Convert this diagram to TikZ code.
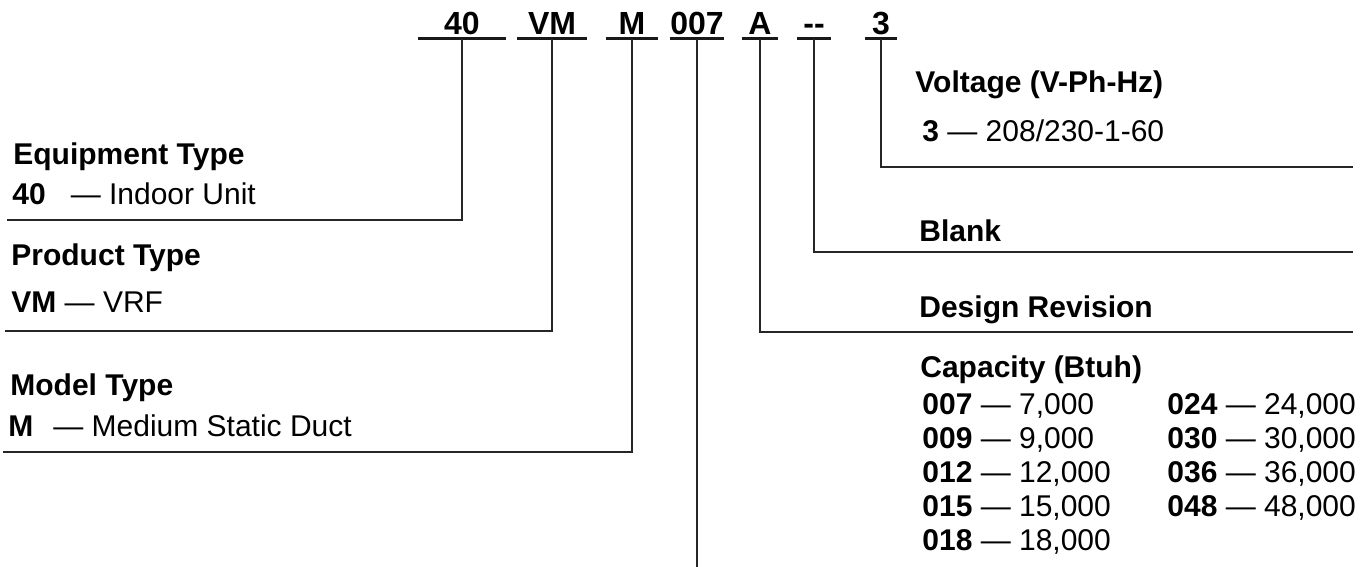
\documentclass[tikz,border=0pt]{standalone}
\usepackage{fontspec}
\setmainfont{Liberation Sans}
\usetikzlibrary{calc}

\begin{document}
\begin{tikzpicture}[x=0.5pt,y=-0.5pt,
  code/.style={anchor=base,inner xsep=0pt,inner ysep=1.75pt,text depth=0pt,
    font=\fontsize{16}{19}\selectfont\bfseries},
  head/.style={anchor=base west,inner sep=0pt,font=\fontsize{15}{18}\selectfont\bfseries},
  item/.style={anchor=base west,inner sep=0pt,font=\fontsize{15}{18}\selectfont},
  link/.style={line width=1pt,draw=black!85},
  bar/.style={line width=1.5pt,draw=black!90}]
\useasboundingbox (0,0) rectangle (1362,567);

% The model number.
\node[code,minimum width=43.5pt] (c40) at (462,35) {40};
\node[code,minimum width=34.5pt] (cVM) at (552,35) {VM};
\node[code,minimum width=26pt] (cM) at (632,35) {M};
\node[code,minimum width=26pt] (c007) at (697,35) {007};
\node[code,minimum width=18pt] (cA) at (760,35) {A};
\node[code,minimum width=16.5pt] (cBlank) at (814,35) {-{}-};
\node[code,minimum width=16pt] (cV) at (881,35) {3};

\foreach \c in {c40,cVM,cM,c007,cA,cBlank,cV}
  \draw[bar] (\c.south west) -- (\c.south east);

% Ends of the leader lines.
\coordinate (e40) at (7,220);
\coordinate (eVM) at (5,331);
\coordinate (eM) at (3,452);
\coordinate (e007) at (697,567);
\coordinate (eA) at (1353,332);
\coordinate (eBlank) at (1353,252);
\coordinate (eV) at (1353,167);

\draw[link] (c40.south) |- (e40);
\draw[link] (cVM.south) |- (eVM);
\draw[link] (cM.south) |- (eM);
\draw[link] (c007.south) -- (e007);
\draw[link] (cA.south) |- (eA);
\draw[link] (cBlank.south) |- (eBlank);
\draw[link] (cV.south) |- (eV);

% Left side.
\node[head] (equip) at (13,165) {Equipment Type};
\node[item] (equip40) at (12,205) {\textbf{40}\hspace{12.5pt}— Indoor Unit};
\node[head] (prod) at (11,265) {Product Type};
\node[item] (prodVM) at (11,313) {\textbf{VM} — VRF};
\node[head] (model) at (10,395) {Model Type};
\node[item] (modelM) at (8,436) {\textbf{M}\hspace{10pt}— Medium Static Duct};

% Right side.
\node[head] (volt) at (915,93) {Voltage (V-Ph-Hz)};
\node[item] (volt3) at (922,142) {\textbf{3} — 208/230-1-60};
\node[head] (blank) at (919,242) {Blank};
\node[head] (design) at (919,317) {Design Revision};
\node[head] (cap) at (920,378) {Capacity (Btuh)};

\foreach \k/\v [count=\i from 0] in {007/{7,000},009/{9,000},012/{12,000},015/{15,000},018/{18,000}}
  \node[item] (capA\i) at (922,415+33.75*\i) {\textbf{\k} — \v};
\foreach \k/\v [count=\i from 0] in {024/{24,000},030/{30,000},036/{36,000},048/{48,000}}
  \node[item] (capB\i) at (1167,415+33.75*\i) {\textbf{\k} — \v};

\end{tikzpicture}
\end{document}
